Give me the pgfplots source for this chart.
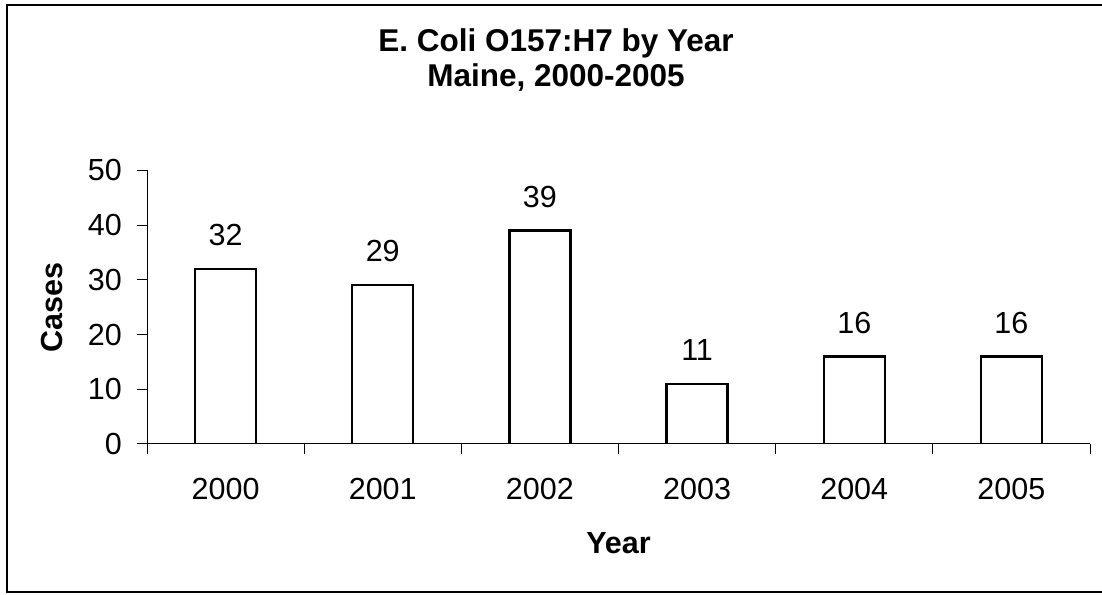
\documentclass[border=0pt]{standalone}
\usepackage{fontspec}
\setmainfont{Liberation Sans}
\usepackage{pgfplots}
\pgfplotsset{compat=1.18}
\begin{document}
\begin{tikzpicture}
\useasboundingbox (0,0) rectangle (1102pt,594pt);
\draw[line width=2.6pt] (7pt,2pt) rectangle (1106pt,589pt);
\begin{axis}[
  at={(147pt,150pt)}, anchor=south west,
  width=943pt, height=273.6pt, scale only axis,
  /pgf/number format/assume math mode=true,
  ybar, bar width=61pt,
  xmin=-0.5, xmax=5.5, ymin=0, ymax=50,
  xtick={-0.5,0.5,...,5.5}, x tick label as interval,
  xticklabels={2000,2001,2002,2003,2004,2005},
  ytick={0,10,...,50},
  axis x line=bottom, axis y line=left,
  axis line style={-, line width=1pt},
  tick align=outside, major tick length=10pt,
  tick style={line width=1pt, black},
  tick label style={font=\fontsize{30.5}{36}\selectfont},
  yticklabel style={anchor=east, inner sep=0pt, xshift=-15pt},
  xticklabel style={anchor=north, inner sep=0pt, yshift=-24pt},
  title={E. Coli O157:H7 by Year\\Maine, 2000-2005},
  title style={at={(axis description cs:0.4337,1.496)}, anchor=north, inner sep=0pt,
    align=center, font=\bfseries\fontsize{31.5}{35}\selectfont},
  xlabel={Year},
  xlabel style={at={(axis description cs:0.5,-0.324)}, anchor=north, inner sep=0pt,
    font=\bfseries\fontsize{30.5}{36}\selectfont},
  ylabel={Cases},
  ylabel style={at={(axis description cs:-0.0891,0.5)}, anchor=south, inner sep=0pt,
    font=\bfseries\fontsize{30.5}{36}\selectfont},
  nodes near coords,
  nodes near coords style={font=\fontsize{30.5}{36}\selectfont, anchor=south,
    inner sep=0pt, yshift=22pt, black},
]
\addplot[draw=black, fill=white, line width=2.2pt]
  coordinates {(0,32) (1,29) (2,39) (3,11) (4,16) (5,16)};
\end{axis}
\end{tikzpicture}
\end{document}
